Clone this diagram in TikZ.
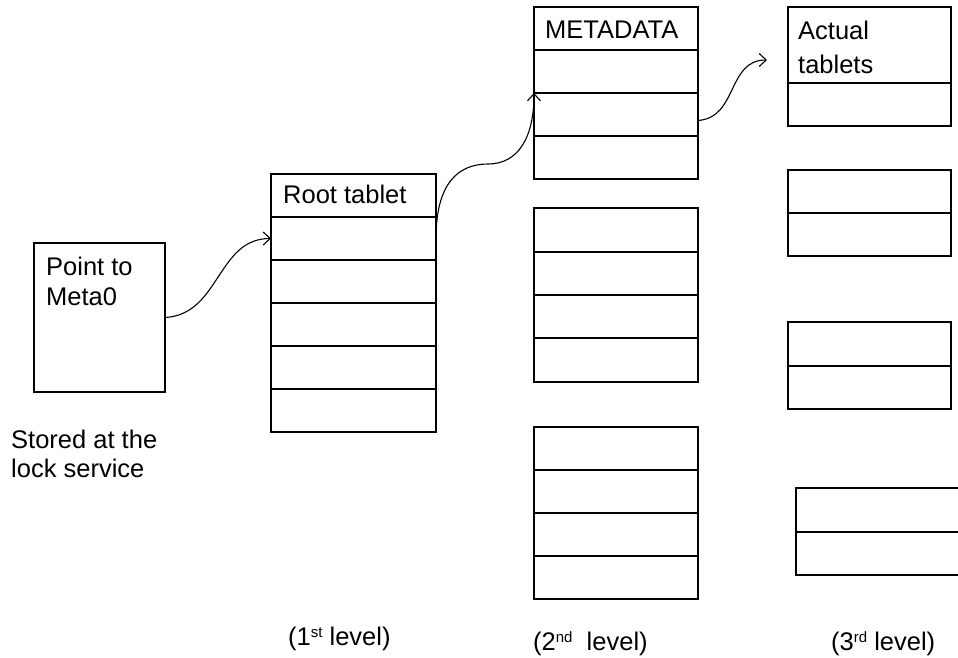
\documentclass[tikz,border=0pt]{standalone}
\usepackage{fontspec}
\setmainfont{Liberation Sans}
\usetikzlibrary{arrows.meta}
\newcommand\mysup[1]{\raisebox{7.5pt}{\fontsize{15}{15}\selectfont #1}}
\tikzset{
  cell/.style={draw, line width=1.2pt, inner sep=0pt, outer sep=0pt, anchor=north west},
  rootcell/.style={cell, minimum width=165pt, minimum height=43pt},
  metacell/.style={cell, minimum width=164pt, minimum height=43pt},
  tabcell/.style={cell, minimum width=163pt, minimum height=43pt},
  txt/.style={inner sep=0pt, anchor=base west, font=\fontsize{25.5}{30}\selectfont},
  arr/.style={line width=1.1pt, -{Straight Barb[length=7pt,width=13pt,line width=1.1pt]}}
}
\begin{document}
\begin{tikzpicture}[x=1pt,y=-1pt]
\clip (0,0) rectangle (958,657);
\fill[white] (0,0) rectangle (958,657);
% left box
\node[cell, minimum width=131pt, minimum height=149pt] (lb) at (34,243) {};
\node[txt] (lbt1) at (46,275) {Point to};
\node[txt] (lbt2) at (46,305) {Meta0};
\node[txt] (st1) at (11,448) {Stored at the};
\node[txt] (st2) at (11,477) {lock service};
% root tablet stack
\node[rootcell] (r1) at (271,174) {};
\node[rootcell] (r2) at (271,217) {};
\node[rootcell] (r3) at (271,260) {};
\node[rootcell] (r4) at (271,303) {};
\node[rootcell] (r5) at (271,346) {};
\node[rootcell] (r6) at (271,389) {};
\node[txt] (rt) at (283,203) {Root tablet};
% metadata stacks
\node[metacell] (m1) at (534,7) {};
\node[metacell] (m2) at (534,50) {};
\node[metacell] (m3) at (534,93) {};
\node[metacell] (m4) at (534,136) {};
\node[txt] (mt) at (545,38) {METADATA};
\node[metacell, minimum height=44pt] (n1) at (534,208) {};
\node[metacell] (n2) at (534,252) {};
\node[metacell] (n3) at (534,295) {};
\node[metacell, minimum height=44pt] (n4) at (534,338) {};
\node[metacell] (p1) at (534,427) {};
\node[metacell] (p2) at (534,470) {};
\node[metacell] (p3) at (534,513) {};
\node[metacell] (p4) at (534,556) {};
% third level
\node[cell, minimum width=163pt, minimum height=76pt] (a1) at (788,7) {};
\node[tabcell] (a2) at (788,83) {};
\node[txt] (at1) at (798,39) {Actual};
\node[txt] (at2) at (798,73) {tablets};
\node[tabcell] (b1) at (788,170) {};
\node[tabcell] (b2) at (788,213) {};
\node[tabcell, minimum height=44pt] (c1) at (788,322) {};
\node[tabcell] (c2) at (788,366) {};
\node[cell, minimum width=220pt, minimum height=44pt] (d1) at (796,488) {};
\node[cell, minimum width=220pt, minimum height=43pt] (d2) at (796,532) {};
% level labels
\node[txt] (l1) at (288,645) {(1\mysup{st} level)};
\node[txt] (l2) at (533,650) {(2\mysup{nd}\ \ level)};
\node[txt] (l3) at (831,650) {(3\mysup{rd} level)};
% connectors
\draw[arr] (lb.east) .. controls +(55,-3) and +(-54,0) .. (r2.west);
\coordinate (via2) at (488,164);
\draw[arr] (r2.east) .. controls +(0,-55) and +(-30,0) .. (via2)
  .. controls +(30,0) and +(0,45) .. (m2.south west);
\coordinate (e3) at (767,60);
\draw[arr] ([yshift=-6pt]m3.east) .. controls +(40,-3) and +(-40,0) .. (e3);
\end{tikzpicture}
\end{document}
